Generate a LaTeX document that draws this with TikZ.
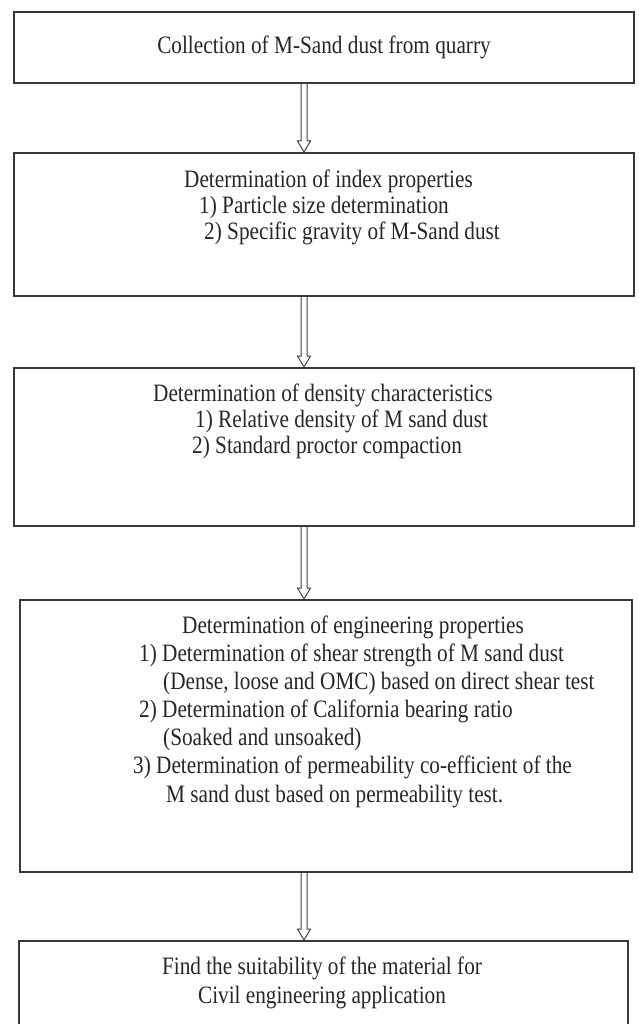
\documentclass[tikz,border=0pt]{standalone}
\usepackage{fontspec}
\setmainfont{Liberation Serif}[FakeStretch=0.85]
\usetikzlibrary{calc}
\newcommand\hollowarrow[2]{%
  \draw[arr] ($(#1.south -| ax)+(-3,0)$) -- ($(#2.north -| ax)+(-3,-11)$)
    -- ($(#2.north -| ax)+(-6.5,-11)$) -- (#2.north -| ax)
    -- ($(#2.north -| ax)+(6.5,-11)$) -- ($(#2.north -| ax)+(3,-11)$)
    -- ($(#1.south -| ax)+(3,0)$);}
\begin{document}
\begin{tikzpicture}[x=1pt,y=-1pt,
  box/.style={draw=black!78, line width=1.7pt, inner sep=0pt, anchor=north west},
  txt/.style={inner sep=0pt, font=\fontsize{25}{29}\selectfont, text=black!85},
  lft/.style={txt, anchor=west},
  arr/.style={draw=black!75, line width=1pt, line join=miter}]
\useasboundingbox (0,0) rectangle (638,1024);
\clip (0,0) rectangle (638,1024);
\coordinate (ax) at (304,0);
% boxes
\node[box, minimum width=620pt, minimum height=71pt]  (b1) at (13,11) {};
\node[box, minimum width=620pt, minimum height=143pt] (b2) at (13,152) {};
\node[box, minimum width=620pt, minimum height=158pt] (b3) at (13,367) {};
\node[box, minimum width=612pt, minimum height=272pt] (b4) at (19,599) {};
\node[box, minimum width=609pt, minimum height=120pt] (b5) at (18,940) {};
% texts
\node[txt] (t1) at (324,47) {Collection of M-Sand dust from quarry};
\node[lft] (t21) at (184,181) {Determination of index properties};
\node[lft] (t22) at (199,207) {1) Particle size determination};
\node[lft] (t23) at (204,233) {2) Specific gravity of M-Sand dust};
\node[lft] (t31) at (153,395) {Determination of density characteristics};
\node[lft] (t32) at (195,421) {1) Relative density of M sand dust};
\node[lft] (t33) at (192,447) {2) Standard proctor compaction};
\node[lft] (t41) at (182,627) {Determination of engineering properties};
\node[lft] (t42) at (139,655) {1) Determination of shear strength of M sand dust};
\node[lft] (t43) at (163,683) {(Dense, loose and OMC) based on direct shear test};
\node[lft] (t44) at (139,711) {2) Determination of California bearing ratio};
\node[lft] (t45) at (163,739) {(Soaked and unsoaked)};
\node[lft] (t46) at (133,767) {3) Determination of permeability co-efficient of the};
\node[lft] (t47) at (166,797) {M sand dust based on permeability test.};
\node[txt] (t51) at (322,968) {Find the suitability of the material for};
\node[txt] (t52) at (322,998) {Civil engineering application};
% arrows
\hollowarrow{b1}{b2}
\hollowarrow{b2}{b3}
\hollowarrow{b3}{b4}
\hollowarrow{b4}{b5}
\end{tikzpicture}
\end{document}
